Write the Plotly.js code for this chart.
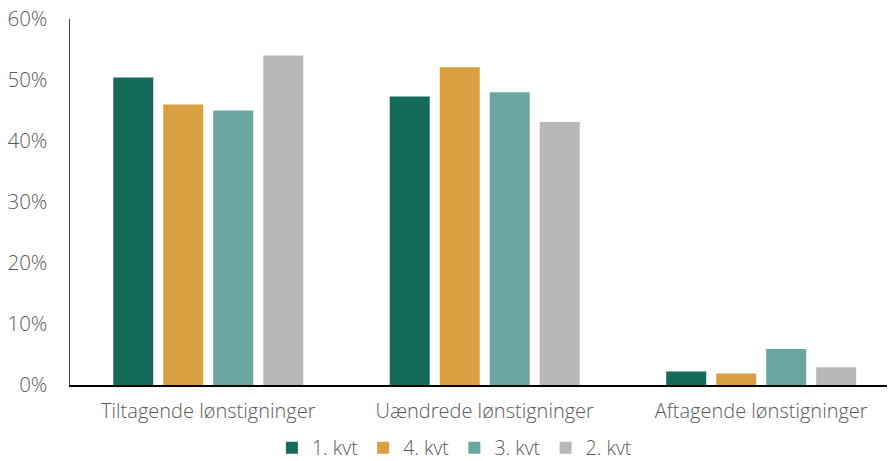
<!DOCTYPE html>
<html>
<head>
<meta charset="utf-8">
<script src="https://cdn.plot.ly/plotly-3.0.1.min.js"></script>
<style>html,body{margin:0;padding:0;background:#fff;}#chart{width:889px;height:461px;}</style>
</head>
<body>
<div id="chart"></div>
<script>
const categories = ["Tiltagende lønstigninger", "Uændrede lønstigninger", "Aftagende lønstigninger"];
const seriesNames = ["1. kvt", "4. kvt", "3. kvt", "2. kvt"];
const kvt1 = [50.4, 47.3, 2.2];
const kvt4 = [46.0, 52.1, 1.9];
const kvt3 = [45.0, 48.0, 5.9];
const kvt2 = [54.0, 43.1, 2.9];
const colors = ["#146b5a", "#d99f41", "#6aa7a1", "#b8b8b8"];
const yTickVals = [0, 10, 20, 30, 40, 50, 60];
const yTickText = ["0%", "10%", "20%", "30%", "40%", "50%", "60%"];

const allSeries = [kvt1, kvt4, kvt3, kvt2];
const traces = allSeries.map((vals, i) => ({
  type: "bar",
  name: seriesNames[i],
  x: categories,
  y: vals,
  marker: {color: colors[i]},
  hoverinfo: "none"
}));

const fam = "'Open Sans', sans-serif";
const grey = "#595959";

const layout = {
  width: 889,
  height: 461,
  margin: {l: 70, r: 2, t: 19, b: 76, autoexpand: false},
  paper_bgcolor: "#fff",
  plot_bgcolor: "#fff",
  barmode: "group",
  bargap: 0.2767,
  bargroupgap: 0.2,
  font: {family: fam, size: 19, color: grey, weight: 300},
  showlegend: true,
  legend: {
    orientation: "h",
    x: 0.4705, xanchor: "center",
    y: -0.172, yanchor: "middle",
    font: {family: fam, size: 19.5, color: grey, weight: 300},
    itemwidth: 30,
    traceorder: "normal"
  },
  xaxis: {
    range: [-0.5, 2.455],
    showline: true, linecolor: "#000", linewidth: 2,
    ticks: "", showgrid: false, zeroline: false,
    tickfont: {family: fam, size: 20, color: grey, weight: 300},
    ticklabelstandoff: 7,
    fixedrange: true
  },
  yaxis: {
    range: [0, 60],
    tickvals: yTickVals, ticktext: yTickText,
    showline: true, linecolor: "#404040", linewidth: 1.5,
    ticks: "", showgrid: false, zeroline: false,
    tickfont: {family: fam, size: 20.5, color: grey, weight: 300},
    ticklabelstandoff: 17,
    fixedrange: true
  }
};

Plotly.newPlot("chart", traces, layout, {displayModeBar: false, staticPlot: true});
</script>
</body>
</html>
